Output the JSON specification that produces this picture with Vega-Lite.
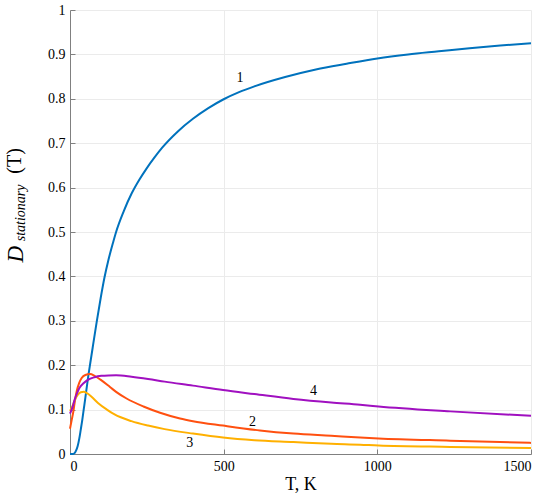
{
  "$schema": "https://vega.github.io/schema/vega-lite/v6.json",
  "width": 461,
  "height": 444,
  "autosize": "none",
  "padding": {"left": 70, "top": 10, "right": 19, "bottom": 48},
  "background": "white",
  "config": {"view": {"stroke": null}, "font": "Liberation Serif", "axis": {"labelFont": "Liberation Serif", "titleFont": "Liberation Serif"}},
  "layer": [
    {
      "data": {"values": [
        {"T": 0, "D": 0, "c": "1"}, {"T": 10, "D": 0.0002, "c": "1"}, {"T": 15, "D": 0.002, "c": "1"}, {"T": 20, "D": 0.008, "c": "1"},
        {"T": 25, "D": 0.018, "c": "1"}, {"T": 30, "D": 0.034, "c": "1"}, {"T": 35, "D": 0.055, "c": "1"}, {"T": 40, "D": 0.077, "c": "1"},
        {"T": 45, "D": 0.102, "c": "1"}, {"T": 50, "D": 0.127, "c": "1"}, {"T": 55, "D": 0.153, "c": "1"}, {"T": 60, "D": 0.178, "c": "1"},
        {"T": 66, "D": 0.205, "c": "1"}, {"T": 75, "D": 0.245, "c": "1"}, {"T": 87, "D": 0.298, "c": "1"}, {"T": 100, "D": 0.352, "c": "1"},
        {"T": 112, "D": 0.397, "c": "1"}, {"T": 125, "D": 0.437, "c": "1"}, {"T": 140, "D": 0.476, "c": "1"}, {"T": 150, "D": 0.5, "c": "1"},
        {"T": 175, "D": 0.547, "c": "1"}, {"T": 200, "D": 0.586, "c": "1"}, {"T": 225, "D": 0.617, "c": "1"}, {"T": 250, "D": 0.644, "c": "1"},
        {"T": 275, "D": 0.668, "c": "1"}, {"T": 300, "D": 0.69, "c": "1"}, {"T": 350, "D": 0.726, "c": "1"}, {"T": 400, "D": 0.755, "c": "1"},
        {"T": 450, "D": 0.779, "c": "1"}, {"T": 500, "D": 0.799, "c": "1"}, {"T": 550, "D": 0.815, "c": "1"}, {"T": 600, "D": 0.828, "c": "1"},
        {"T": 700, "D": 0.849, "c": "1"}, {"T": 800, "D": 0.866, "c": "1"}, {"T": 900, "D": 0.879, "c": "1"}, {"T": 1000, "D": 0.891, "c": "1"},
        {"T": 1100, "D": 0.9, "c": "1"}, {"T": 1200, "D": 0.907, "c": "1"}, {"T": 1300, "D": 0.914, "c": "1"}, {"T": 1400, "D": 0.92, "c": "1"},
        {"T": 1500, "D": 0.925, "c": "1"},

        {"T": 0, "D": 0.057, "c": "2"}, {"T": 5, "D": 0.075, "c": "2"}, {"T": 11, "D": 0.096, "c": "2"}, {"T": 16, "D": 0.12, "c": "2"},
        {"T": 22, "D": 0.142, "c": "2"}, {"T": 30, "D": 0.16, "c": "2"}, {"T": 38, "D": 0.171, "c": "2"}, {"T": 50, "D": 0.178, "c": "2"},
        {"T": 65, "D": 0.18, "c": "2"}, {"T": 80, "D": 0.176, "c": "2"}, {"T": 98, "D": 0.168, "c": "2"}, {"T": 130, "D": 0.151, "c": "2"},
        {"T": 150, "D": 0.14, "c": "2"}, {"T": 184, "D": 0.125, "c": "2"}, {"T": 239, "D": 0.107, "c": "2"}, {"T": 293, "D": 0.093, "c": "2"},
        {"T": 358, "D": 0.08, "c": "2"}, {"T": 400, "D": 0.074, "c": "2"}, {"T": 498, "D": 0.064, "c": "2"}, {"T": 618, "D": 0.053, "c": "2"},
        {"T": 727, "D": 0.046, "c": "2"}, {"T": 850, "D": 0.041, "c": "2"}, {"T": 944, "D": 0.037, "c": "2"}, {"T": 1004, "D": 0.035, "c": "2"},
        {"T": 1237, "D": 0.03, "c": "2"}, {"T": 1500, "D": 0.025, "c": "2"},

        {"T": 0, "D": 0.097, "c": "3"}, {"T": 8, "D": 0.108, "c": "3"}, {"T": 16, "D": 0.122, "c": "3"}, {"T": 25, "D": 0.133, "c": "3"},
        {"T": 35, "D": 0.139, "c": "3"}, {"T": 45, "D": 0.14, "c": "3"}, {"T": 55, "D": 0.137, "c": "3"}, {"T": 70, "D": 0.129, "c": "3"},
        {"T": 91, "D": 0.115, "c": "3"}, {"T": 120, "D": 0.1, "c": "3"}, {"T": 145, "D": 0.089, "c": "3"}, {"T": 200, "D": 0.074, "c": "3"},
        {"T": 254, "D": 0.064, "c": "3"}, {"T": 308, "D": 0.056, "c": "3"}, {"T": 400, "D": 0.046, "c": "3"}, {"T": 498, "D": 0.037, "c": "3"},
        {"T": 600, "D": 0.031, "c": "3"}, {"T": 727, "D": 0.027, "c": "3"}, {"T": 850, "D": 0.023, "c": "3"}, {"T": 944, "D": 0.021, "c": "3"},
        {"T": 1004, "D": 0.019, "c": "3"}, {"T": 1237, "D": 0.016, "c": "3"}, {"T": 1500, "D": 0.0135, "c": "3"},

        {"T": 0, "D": 0.091, "c": "4"}, {"T": 8, "D": 0.105, "c": "4"}, {"T": 15, "D": 0.122, "c": "4"}, {"T": 23, "D": 0.137, "c": "4"},
        {"T": 31, "D": 0.149, "c": "4"}, {"T": 45, "D": 0.16, "c": "4"}, {"T": 58, "D": 0.167, "c": "4"}, {"T": 80, "D": 0.173, "c": "4"},
        {"T": 102, "D": 0.176, "c": "4"}, {"T": 125, "D": 0.177, "c": "4"}, {"T": 150, "D": 0.1772, "c": "4"}, {"T": 200, "D": 0.174, "c": "4"},
        {"T": 254, "D": 0.169, "c": "4"}, {"T": 308, "D": 0.163, "c": "4"}, {"T": 400, "D": 0.154, "c": "4"}, {"T": 498, "D": 0.144, "c": "4"},
        {"T": 600, "D": 0.135, "c": "4"}, {"T": 727, "D": 0.124, "c": "4"}, {"T": 850, "D": 0.116, "c": "4"}, {"T": 944, "D": 0.111, "c": "4"},
        {"T": 1004, "D": 0.107, "c": "4"}, {"T": 1237, "D": 0.096, "c": "4"}, {"T": 1500, "D": 0.086, "c": "4"}
      ]},
      "mark": {"type": "line", "strokeWidth": 2, "interpolate": "monotone"},
      "encoding": {
        "x": {"field": "T", "type": "quantitative", "scale": {"domain": [0, 1500], "nice": false},
          "axis": {"values": [0, 500, 1000, 1500], "format": "d", "grid": true, "gridColor": "#ebebeb", "domainColor": "#808080", "tickColor": "#808080",
            "tickSize": -5, "labelPadding": 10, "labelFont": "Liberation Serif", "labelFontSize": 14, "labelColor": "#000",
            "title": "T, K", "titleFont": "Liberation Serif", "titleFontSize": 18, "titleFontWeight": "normal", "titleColor": "#000", "titlePadding": 2}},
        "y": {"field": "D", "type": "quantitative", "scale": {"domain": [0, 1], "nice": false},
          "axis": {"values": [0, 0.1, 0.2, 0.3, 0.4, 0.5, 0.6, 0.7, 0.8, 0.9, 1], "format": "~g", "grid": true, "gridColor": "#ebebeb",
            "domainColor": "#808080", "tickColor": "#808080", "tickSize": -5, "labelPadding": 10, "labelFont": "Liberation Serif",
            "labelFontSize": 14, "labelColor": "#000", "title": null}},
        "color": {"field": "c", "type": "nominal", "scale": {"domain": ["1", "2", "3", "4"], "range": ["#0072BD", "#FF5010", "#FFB000", "#A010C0"]}, "legend": null}
      }
    },
    {
      "data": {"values": [
        {"T": 553, "D": 0.847, "t": "1"}, {"T": 594, "D": 0.073, "t": "2"}, {"T": 390, "D": 0.025, "t": "3"}, {"T": 792, "D": 0.141, "t": "4"}
      ]},
      "mark": {"type": "text", "font": "Liberation Serif", "fontSize": 14, "color": "#000", "align": "center", "baseline": "middle"},
      "encoding": {"x": {"field": "T", "type": "quantitative"}, "y": {"field": "D", "type": "quantitative"}, "text": {"field": "t"}}
    },
    {
      "data": {"values": [{"T": -176, "D": 0.45, "t": "D"}]},
      "mark": {"type": "text", "font": "Liberation Serif", "fontSize": 23, "fontStyle": "italic", "angle": 270, "color": "#000", "align": "center", "baseline": "middle"},
      "encoding": {"x": {"field": "T", "type": "quantitative"}, "y": {"field": "D", "type": "quantitative"}, "text": {"field": "t"}}
    },
    {
      "data": {"values": [{"T": -159, "D": 0.543, "t": "stationary"}]},
      "mark": {"type": "text", "font": "Liberation Serif", "fontSize": 14, "fontStyle": "italic", "angle": 270, "color": "#000", "align": "center", "baseline": "middle"},
      "encoding": {"x": {"field": "T", "type": "quantitative"}, "y": {"field": "D", "type": "quantitative"}, "text": {"field": "t"}}
    },
    {
      "data": {"values": [{"T": -178, "D": 0.66, "t": "(T)"}]},
      "mark": {"type": "text", "font": "Liberation Serif", "fontSize": 20, "angle": 270, "color": "#000", "align": "center", "baseline": "middle"},
      "encoding": {"x": {"field": "T", "type": "quantitative"}, "y": {"field": "D", "type": "quantitative"}, "text": {"field": "t"}}
    }
  ]
}
